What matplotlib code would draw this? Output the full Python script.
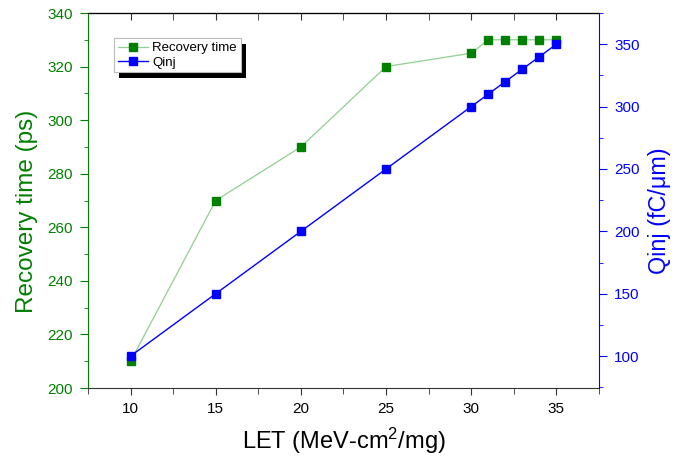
import matplotlib
matplotlib.use("Agg")
import matplotlib.pyplot as plt
from matplotlib.ticker import MultipleLocator
from matplotlib.patches import Rectangle

plt.rcParams['font.family'] = ['Liberation Sans', 'DejaVu Sans']
plt.rcParams['mathtext.fontset'] = 'custom'
plt.rcParams['mathtext.rm'] = 'Liberation Sans'
plt.rcParams['mathtext.it'] = 'Liberation Sans'

let = [10, 15, 20, 25, 30, 31, 32, 33, 34, 35]
recovery_time = [210, 270, 290, 320, 325, 330, 330, 330, 330, 330]
qinj = [100, 150, 200, 250, 300, 310, 320, 330, 340, 350]

GREEN = '#008000'
LGREEN = '#8fd08f'
BLUE = '#0000ff'

fig = plt.figure(figsize=(6.94, 4.62), dpi=100)
ax = fig.add_axes([88/694, 74/462, 511/694, 375/462])
ax2 = ax.twinx()

l1, = ax.plot(let, recovery_time, color=LGREEN, lw=0.9, marker='s', ms=6,
              mfc=GREEN, mec=GREEN, label='Recovery time', zorder=3)
l2, = ax2.plot(let, qinj, color=BLUE, lw=1.0, marker='s', ms=6,
               mfc=BLUE, mec=BLUE, label='Qinj', zorder=3)

ax.set_xlim(7.5, 37.5)
ax.set_ylim(200, 340)
ax2.set_ylim(74.4, 375)

ax.xaxis.set_major_locator(MultipleLocator(5))
ax.xaxis.set_minor_locator(MultipleLocator(2.5))
ax.yaxis.set_major_locator(MultipleLocator(20))
ax.yaxis.set_minor_locator(MultipleLocator(10))
ax2.yaxis.set_major_locator(MultipleLocator(50))
ax2.yaxis.set_minor_locator(MultipleLocator(25))

ax.tick_params(axis='x', which='both', direction='out', labelsize=11,
               color='#333333', labelcolor='black', top=False)
ax.tick_params(axis='x', which='major', length=5, pad=5)
ax.tick_params(axis='x', which='minor', length=4)
ax.tick_params(axis='y', which='both', direction='out', colors=GREEN, labelsize=11)
ax.tick_params(axis='y', which='major', length=6, pad=5)
ax.tick_params(axis='y', which='minor', length=3)
ax2.tick_params(axis='y', which='both', direction='out', colors=BLUE, labelsize=11)
ax2.tick_params(axis='y', which='major', length=6, pad=5)
ax2.tick_params(axis='y', which='minor', length=3)

ax.spines['left'].set_color(GREEN)
ax.spines['bottom'].set_color('#333333')
ax.spines['top'].set_color('black')
ax2.spines['left'].set_visible(False)
ax2.spines['right'].set_color(BLUE)
ax2.spines['top'].set_color('black')
ax2.spines['bottom'].set_visible(False)
ax.spines['right'].set_visible(False)

sec = ax.secondary_xaxis('top')
sec.xaxis.set_major_locator(MultipleLocator(5))
sec.xaxis.set_minor_locator(MultipleLocator(2.5))
sec.tick_params(axis='x', which='both', direction='in', labeltop=False, color='#333333')
sec.tick_params(axis='x', which='both', length=5)
sec.spines['top'].set_color('black')

ax.set_xlabel('LET (MeV-cm$^{\\mathregular{2}}$/mg)', fontsize=17, labelpad=7)
ax.set_ylabel('Recovery time (ps)', fontsize=17.5, color=GREEN)
ax2.set_ylabel('Qinj (fC/\u03bcm)', fontsize=16.8, color=BLUE)
ax.yaxis.set_label_coords(-0.098, 0.472)
ax2.yaxis.set_label_coords(1.096, 0.472)

leg = ax2.legend(handles=[l1, l2], loc='upper left', bbox_to_anchor=(0.051, 0.933),
                 borderaxespad=0, fontsize=9.5, fancybox=False, framealpha=1,
                 edgecolor='#bbbbbb', handlelength=2.3, handletextpad=0.3,
                 borderpad=0.3, labelspacing=0.15)
leg.get_frame().set_linewidth(0.8)
leg.set_zorder(10)

fig.canvas.draw()
bb = leg.get_window_extent()
shadow = Rectangle((bb.x0 + 5, bb.y0 - 6), bb.width, bb.height, transform=None,
                   facecolor='black', edgecolor='none', zorder=9, clip_on=False)
ax2.add_artist(shadow)

fig.savefig('out.png', dpi=100)
